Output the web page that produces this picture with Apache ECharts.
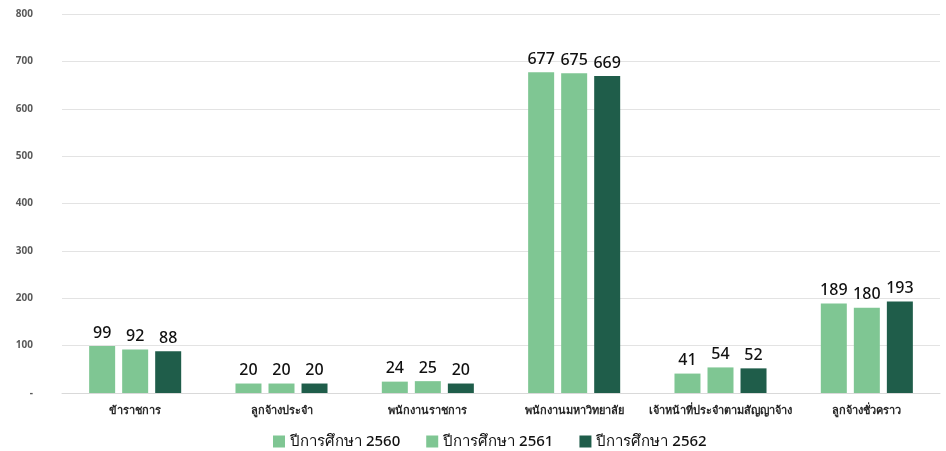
<!DOCTYPE html>
<html>
<head>
<meta charset="utf-8">
<script src="https://cdn.jsdelivr.net/npm/echarts@6/dist/echarts.min.js"></script>
<style>
html,body{margin:0;padding:0;background:#fff;}
#c{width:946px;height:451px;}
</style>
</head>
<body>
<div id="c"></div>
<script>
const categories = ['ข้าราชการ','ลูกจ้างประจำ','พนักงานราชการ','พนักงานมหาวิทยาลัย','เจ้าหน้าที่ประจำตามสัญญาจ้าง','ลูกจ้างชั่วคราว'];
const seriesNames = ['ปีการศึกษา 2560','ปีการศึกษา 2561','ปีการศึกษา 2562'];
const values2560 = [99, 20, 24, 677, 41, 189];
const values2561 = [92, 20, 25, 675, 54, 180];
const values2562 = [88, 20, 20, 669, 52, 193];
const colors = ['#7fc693', '#7fc693', '#1f5d4a'];
const FONT = 'Noto Sans, Tahoma, sans-serif';

const chart = echarts.init(document.getElementById('c'));
const dataSets = [values2560, values2561, values2562];
chart.setOption({
  animation: false,
  textStyle: { fontFamily: FONT },
  grid: { left: 62, right: 6, top: 14, bottom: 58 },
  legend: {
    top: 429, left: 268,
    itemWidth: 12, itemHeight: 12, itemGap: 26,
    icon: 'rect',
    textStyle: { fontSize: 15, color: '#111', fontFamily: FONT, fontWeight: 500 },
    data: seriesNames
  },
  xAxis: {
    type: 'category', data: categories,
    axisLine: { lineStyle: { color: '#d9d9d9' } },
    axisTick: { show: false },
    axisLabel: { fontSize: 11, color: '#262626', margin: 12, interval: 0, fontWeight: 'bold', fontFamily: FONT }
  },
  yAxis: {
    type: 'value', min: 0, max: 800, interval: 100,
    axisLine: { show: false }, axisTick: { show: false },
    splitLine: { lineStyle: { color: '#e3e3e3' } },
    axisLabel: { fontSize: 10, color: '#595959', margin: 29, align: 'right', fontWeight: 'bold',
      formatter: v => v === 0 ? '-' : String(v) }
  },
  series: dataSets.map((d, i) => ({
    name: seriesNames[i], type: 'bar', data: d,
    barWidth: 26, barGap: '27%',
    itemStyle: { color: colors[i] },
    label: { show: true, position: 'top', fontSize: 16, color: '#111', distance: 5, fontWeight: 500, fontFamily: FONT }
  }))
});
</script>
</body>
</html>
